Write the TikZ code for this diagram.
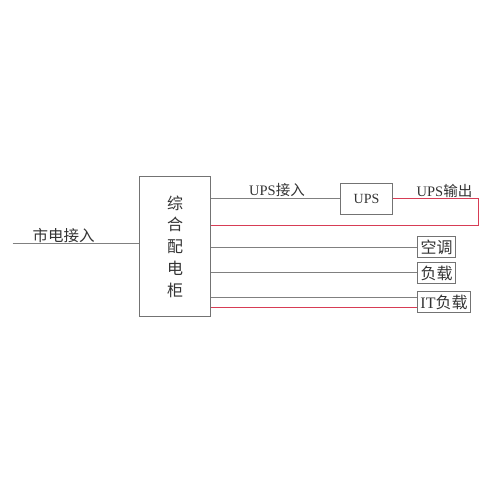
\documentclass[tikz,border=0pt]{standalone}
\usepackage{fontspec}
\setmainfont{Liberation Serif}
\newfontfamily\cjk{Noto Sans CJK SC}
\definecolor{lred}{RGB}{215,60,85}
\begin{document}
\begin{tikzpicture}[x=1pt,y=-1pt,
  gline/.style={draw=black!50, line width=1pt},
  rline/.style={draw=lred, line width=1.3pt},
  boxn/.style={draw=black!55, line width=1pt, inner sep=0pt, text=black!80},
  lbl/.style={text=black!80, font=\fontsize{14}{16}\selectfont, inner sep=0pt}]
\useasboundingbox (0,0) rectangle (500,500);
\node[boxn, minimum width=71pt, minimum height=140pt] (main) at (175,246.5) {};
\node[lbl, font=\fontsize{16}{21.8}\selectfont\cjk, align=center] (maintxt) at (175,246.5) {综\\合\\配\\电\\柜};
\coordinate (in) at (12.5,243.5);
\draw[gline] (in) -- (main.west |- in);
\node[lbl, font=\fontsize{15.5}{16}\selectfont\cjk] (intxt) at (63.5,236) {市电接入};
\node[boxn, minimum width=52pt, minimum height=31pt, font=\fontsize{14}{15}\selectfont] (ups) at (366.5,199) {UPS};
\coordinate (u0) at (0,198.5);
\draw[gline] (main.east |- u0) -- (ups.west |- u0);
\node[lbl, font=\fontsize{14.5}{16}\selectfont] (upsin) at (277,190.5) {UPS{\cjk 接入}};
\coordinate (c1) at (478.5,198.5);
\coordinate (c2) at (478.5,225.5);
\draw[rline] (ups.east |- c1) -- (c1) -- (c2);
\draw[rline] (c2) -- (main.east |- c2);
\node[lbl, font=\fontsize{14.5}{16}\selectfont] (upsout) at (444.5,190.5) {UPS{\cjk 输出}};
\node[boxn, minimum width=38pt, minimum height=21pt, font=\fontsize{16}{16}\selectfont\cjk] (ac) at (436.5,247) {空调};
\coordinate (a0) at (0,247.5);
\draw[gline] (main.east |- a0) -- (ac.west |- a0);
\node[boxn, minimum width=38pt, minimum height=21pt, font=\fontsize{16}{16}\selectfont\cjk] (load) at (436.5,273) {负载};
\coordinate (l0) at (0,272.5);
\draw[gline] (main.east |- l0) -- (load.west |- l0);
\node[boxn, minimum width=53pt, minimum height=21pt, font=\fontsize{16}{16}\selectfont] (it) at (444,302) {IT{\cjk 负载}};
\coordinate (g1) at (0,297.5);
\coordinate (r1) at (0,307.5);
\draw[gline] (main.east |- g1) -- (it.west |- g1);
\draw[rline] (main.east |- r1) -- (it.west |- r1);
\end{tikzpicture}
\end{document}
